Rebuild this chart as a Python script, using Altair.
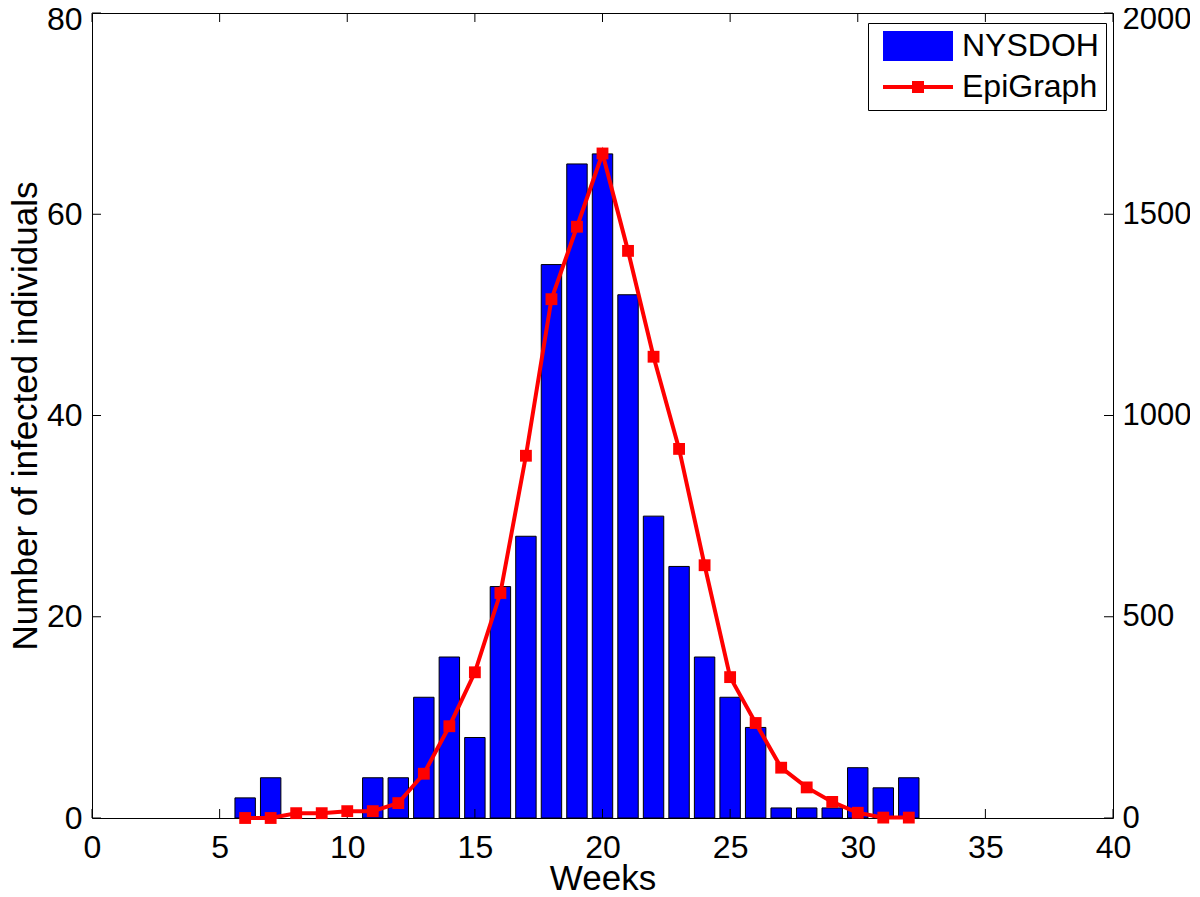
import altair as alt
import pandas as pd

# NYSDOH weekly counts (left axis)
bar_weeks = [6, 7, 11, 12, 13, 14, 15, 16, 17, 18, 19, 20, 21, 22, 23, 24, 25, 26, 27, 28, 29, 30, 31, 32]
bar_counts = [2, 4, 4, 4, 12, 16, 8, 23, 28, 55, 65, 66, 52, 30, 25, 16, 12, 9, 1, 1, 1, 5, 3, 4]

# EpiGraph simulated counts (right axis)
line_weeks = list(range(6, 33))
line_values = [0, 0, 12, 12, 17, 17, 37, 110, 228, 362, 559, 900, 1289, 1469, 1651,
               1409, 1146, 917, 628, 350, 236, 125, 76, 40, 13, 1, 1]

series_names = ["NYSDOH", "EpiGraph"]
series_colors = ["#0000FF", "#FF0000"]

x_ticks = [0, 5, 10, 15, 20, 25, 30, 35, 40]
left_ticks = [0, 20, 40, 60, 80]
right_ticks = [0, 500, 1000, 1500, 2000]

BAR_HALF = 0.4
W = 1021
H = 805
TICK = 9

bars_df = pd.DataFrame({"week": bar_weeks, "count": bar_counts})
bars_df["x0"] = bars_df["week"] - BAR_HALF
bars_df["x1"] = bars_df["week"] + BAR_HALF
line_df = pd.DataFrame({"week": line_weeks, "value": line_values})
leg_df = pd.DataFrame({"series": series_names})
xt_df = pd.DataFrame({"t": x_ticks})
lt_df = pd.DataFrame({"v": left_ticks})
rt_df = pd.DataFrame({"v": right_ticks})

xscale = alt.Scale(domain=[0, 40], nice=False, zero=False)
lscale = alt.Scale(domain=[0, 80], nice=False)
rscale = alt.Scale(domain=[0, 2000], nice=False)

x_axis = alt.Axis(values=x_ticks, title="Weeks", labelPadding=14,
                  titleY=71, titleBaseline="alphabetic")

bars = alt.Chart(bars_df).mark_bar(color="#0000FF", stroke="black", strokeWidth=1).encode(
    x=alt.X("x0:Q", scale=xscale, axis=x_axis),
    x2="x1:Q",
    y=alt.Y("count:Q", scale=lscale,
            axis=alt.Axis(values=left_ticks, orient="left", title="Number of infected individuals",
                          labelPadding=10, titleX=-56, titleBaseline="alphabetic",
                          labelOffset={"condition": {"test": "datum.value == 80", "value": 6}, "value": 0})),
    y2=alt.datum(0),
)

xt_bottom = alt.Chart(xt_df).mark_rule(color="black", strokeWidth=1).encode(
    x=alt.X("t:Q", scale=xscale), y=alt.value(H), y2=alt.value(H - TICK))
xt_top = alt.Chart(xt_df).mark_rule(color="black", strokeWidth=1).encode(
    x=alt.X("t:Q", scale=xscale), y=alt.value(0), y2=alt.value(TICK))
lt_left = alt.Chart(lt_df).mark_rule(color="black", strokeWidth=1).encode(
    y=alt.Y("v:Q", scale=lscale), x=alt.value(0), x2=alt.value(TICK))

left_group = alt.layer(bars, xt_bottom, xt_top, lt_left)

line = alt.Chart(line_df).mark_line(color="#FF0000", strokeWidth=4).encode(
    x=alt.X("week:Q", scale=xscale),
    y=alt.Y("value:Q", scale=rscale,
            axis=alt.Axis(values=right_ticks, orient="right", title=None, labelPadding=9, format="d",
                          labelFontSize=31,
                          labelOffset={"condition": {"test": "datum.value == 2000", "value": 6}, "value": 0})),
)
pts = alt.Chart(line_df).mark_point(shape="square", filled=True, color="#FF0000", size=140, opacity=1).encode(
    x=alt.X("week:Q", scale=xscale),
    y=alt.Y("value:Q", scale=rscale),
)
rt_right = alt.Chart(rt_df).mark_rule(color="black", strokeWidth=1).encode(
    y=alt.Y("v:Q", scale=rscale), x=alt.value(W), x2=alt.value(W - TICK))

# symbol size 900 -> path unit = 15 px
rect_path = "M-2.333,-1H2.333V1H-2.333Z"
line_path = "M-2.333,-0.14H2.333V0.14H-2.333Z M-0.4,-0.4H0.4V0.4H-0.4Z"
leg = alt.Legend(title=None, orient="none", legendX=776, legendY=10,
                 symbolSize=900, symbolOffset=27, labelOffset=28,
                 labelFontSize=32, labelFont="Liberation Sans",
                 labelColor="black", padding=7, rowPadding=9,
                 strokeColor="black", fillColor="white", symbolStrokeWidth=0,
                 symbolOpacity=1)
legend_layer = alt.Chart(leg_df).mark_point(filled=True, opacity=1).encode(
    color=alt.Color("series:N", scale=alt.Scale(domain=series_names, range=series_colors), legend=leg),
    shape=alt.Shape("series:N", scale=alt.Scale(domain=series_names, range=[rect_path, line_path]), legend=leg),
).transform_filter("false")

right_group = alt.layer(line, pts, rt_right, legend_layer)

chart = alt.layer(left_group, right_group).resolve_scale(y="independent").properties(
    width=W, height=H,
    autosize=alt.AutoSizeParams(type="none"),
    padding={"left": 84, "top": 5, "right": 77, "bottom": 79},
).configure_view(stroke="black", strokeWidth=1).configure_axis(
    domain=False, ticks=False, tickSize=0, grid=False, labelFlush=False,
    labelFont="Liberation Sans", labelFontSize=32, labelColor="black",
    titleFont="Liberation Sans", titleFontSize=35, titleFontWeight="normal", titleColor="black",
)

chart.save("out.html", embed_options={"renderer": "svg", "actions": False})
